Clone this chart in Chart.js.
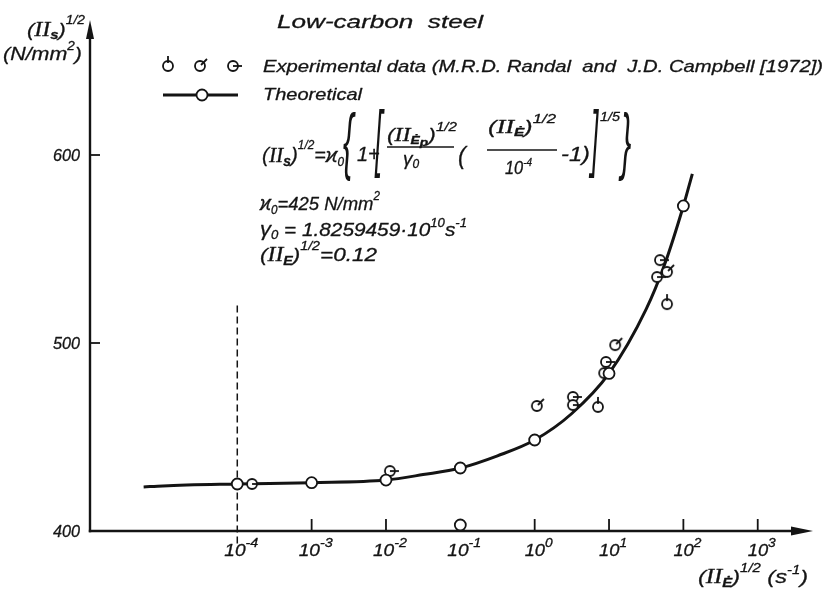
<!DOCTYPE html>
<html><head><meta charset="utf-8">
<script src="https://cdn.jsdelivr.net/npm/chart.js@4/dist/chart.umd.min.js"></script>
<style>html,body{margin:0;padding:0;background:#fff}#wrap{width:826px;height:591px;position:relative}</style>
</head><body><div id="wrap"><canvas id="c"></canvas></div>
<script>
// ---- data ----
const xTickExponents = [-4, -3, -2, -1, 0, 1, 2, 3];
const yTicks = [400, 500, 600];
const theoryCurveX = [5.5e-6, 1e-5, 1e-4, 1e-3, 1e-2, 3.16e-2, 1e-1, 3.16e-1, 1, 3.16, 10, 31.6, 56.2, 100, 132];
const theoryCurveY = [423.4, 424, 425, 425.7, 427.1, 430, 433.5, 440, 448.4, 462.5, 483.8, 518, 542, 572.9, 590];
const theoryMarkX = [1e-4, 1e-3, 1e-2, 1e-1, 1, 10, 100, 1e-1];
const theoryMarkY = [425, 425.7, 427.1, 433.5, 448.4, 483.8, 572.9, 403.2];
const expTopX = [60.3, 7.1];
const expTopY = [520.7, 466];
const expDiagX = [60.3, 12.1, 1.07];
const expDiagY = [537.8, 498.9, 466.5];
const expRightX = [48.4, 44.2, 9.1, 8.6, 3.27, 3.27, 1.58e-4, 1.13e-2];
const expRightY = [544.1, 535.1, 489.9, 484.0, 471.3, 467.0, 425, 431.9];

const zip = (xs, ys) => xs.map((x, i) => ({x, y: ys[i]}));
const INK = '#141414';
const it = s => `italic ${s}px "Liberation Sans"`;
const sr = s => `italic ${s}px "Liberation Serif"`;
const bd = s => `italic bold ${s}px "Liberation Sans"`;

function mk(type){
  const c = document.createElement('canvas'); c.width = 24; c.height = 24;
  const g = c.getContext('2d');
  g.strokeStyle = INK; g.lineWidth = 1.8; g.fillStyle = '#fff';
  g.beginPath(); g.arc(12, 12, 5, 0, 2*Math.PI); g.fill(); g.stroke();
  g.beginPath();
  if (type === 'top') { g.moveTo(12, 9); g.lineTo(12, 2); }
  else if (type === 'diag') { g.moveTo(13, 11); g.lineTo(19, 5); }
  else { g.moveTo(12, 12); g.lineTo(21, 12); }
  g.stroke();
  return c;
}
const symTop = mk('top'), symDiag = mk('diag'), symRight = mk('right');

function rich(ctx, x, y, parts, opt){
  opt = opt || {};
  let w = 0;
  for (const p of parts){ ctx.font = p[1]; w += ctx.measureText(p[0]).width; }
  const sx = opt.width ? opt.width / w : 1;
  let sxp = x;
  if (opt.align === 'center') sxp = x - w*sx/2;
  else if (opt.align === 'right') sxp = x - w*sx;
  ctx.save(); ctx.translate(sxp, y); ctx.scale(sx, 1);
  ctx.textAlign = 'left'; ctx.textBaseline = 'alphabetic'; ctx.fillStyle = INK;
  ctx.strokeStyle = INK; ctx.lineWidth = 0.3; ctx.lineJoin = 'round';
  let cx = 0;
  for (const p of parts){
    ctx.font = p[1];
    ctx.fillText(p[0], cx, p[2] || 0);
    ctx.strokeText(p[0], cx, p[2] || 0);
    cx += ctx.measureText(p[0]).width;
  }
  ctx.restore();
}
function bigGlyph(ctx, ch, x, y, size, sx){
  ctx.save(); ctx.translate(x, y); ctx.scale(sx, 1);
  ctx.font = `italic ${size}px "Liberation Sans"`; ctx.fillStyle = INK; ctx.textAlign = 'left'; ctx.textBaseline = 'alphabetic';
  ctx.fillText(ch, 0, 0); ctx.restore();
}

const axesPlugin = {
  id: 'axesPlugin',
  beforeDatasetsDraw(chart){
    const ctx = chart.ctx, xs = chart.scales.x, ys = chart.scales.y, a = chart.chartArea;
    const x0 = a.left, y0 = ys.getPixelForValue(400);
    ctx.save();
    ctx.strokeStyle = INK; ctx.fillStyle = INK; ctx.lineWidth = 2.4; ctx.lineCap = 'butt';
    // y axis + arrow
    ctx.beginPath(); ctx.moveTo(x0, y0 + 1.2); ctx.lineTo(x0, a.top + 14); ctx.stroke();
    ctx.beginPath(); ctx.moveTo(x0, a.top); ctx.lineTo(x0 - 4, a.top + 19); ctx.lineTo(x0 + 4, a.top + 19); ctx.closePath(); ctx.fill();
    // x axis + arrow
    ctx.beginPath(); ctx.moveTo(x0 - 1.2, y0); ctx.lineTo(a.right - 16, y0); ctx.stroke();
    ctx.beginPath(); ctx.moveTo(a.right + 1, y0); ctx.lineTo(a.right - 21, y0 - 4.5); ctx.lineTo(a.right - 21, y0 + 4.5); ctx.closePath(); ctx.fill();
    // y ticks
    ctx.lineWidth = 1.8;
    for (const v of yTicks){
      const py = ys.getPixelForValue(v);
      if (v > 400){ ctx.beginPath(); ctx.moveTo(x0, py); ctx.lineTo(x0 + 10, py); ctx.stroke(); }
      rich(ctx, x0 - 10, py + 6, [[String(v), it(16)]], {align: 'right', width: 27});
    }
    // x ticks
    for (const t of xs.ticks){
      const px = xs.getPixelForValue(t.value);
      const e = Math.round(Math.log10(t.value));
      if (e === -4){
        ctx.save(); ctx.setLineDash([7, 4]); ctx.lineWidth = 1.5;
        ctx.beginPath(); ctx.moveTo(px, ys.getPixelForValue(520)); ctx.lineTo(px, y0 + 14); ctx.stroke();
        ctx.restore();
      } else {
        ctx.beginPath(); ctx.moveTo(px, y0); ctx.lineTo(px, y0 - 12); ctx.stroke();
      }
      rich(ctx, px + 4, y0 + 25, [['10', it(16)], [String(e), it(12), -9]], {align: 'center', width: e < 0 ? 34 : 28});
    }
    ctx.restore();
  },
  afterDatasetsDraw(chart){
    const ctx = chart.ctx;
    ctx.save();
    // axis titles
    rich(ctx, 27, 36, [['(', it(19)], ['II', sr(21)], ['s', bd(13), 3], [')', it(19)], ['1/2', it(12), -12]], {width: 58});
    rich(ctx, 3, 60, [['(N/mm', it(19)], ['2', it(12), -10], [')', it(19)]], {width: 79});
    rich(ctx, 698, 583, [['(', it(19)], ['II', sr(20)], ['Ė', bd(12), 4], [')', it(19)], ['1/2', it(12), -11], [' (s', it(19)], ['-1', it(12), -9], [')', it(19)]], {width: 110});
    // title
    rich(ctx, 277, 28, [['Low-carbon  steel', it(19)]], {width: 206});
    // legend
    ctx.drawImage(symTop, 168 - 12, 66 - 12);
    ctx.drawImage(symDiag, 200 - 12, 66 - 12);
    ctx.drawImage(symRight, 233 - 12, 66 - 12);
    rich(ctx, 263, 72, [['Experimental data (M.R.D. Randal  and  J.D. Campbell [1972])', it(17)]], {width: 560});
    ctx.strokeStyle = INK; ctx.lineWidth = 3;
    ctx.beginPath(); ctx.moveTo(163, 95); ctx.lineTo(238, 95); ctx.stroke();
    ctx.fillStyle = '#fff'; ctx.lineWidth = 1.8;
    ctx.beginPath(); ctx.arc(202, 95, 5.5, 0, 2*Math.PI); ctx.fill(); ctx.stroke();
    rich(ctx, 263, 100, [['Theoretical', it(17)]], {width: 99});
    // formula
    rich(ctx, 262, 162, [['(', it(21)], ['II', sr(22)], ['s', bd(14), 4], [')', it(21)], ['1/2', it(12), -13], ['=', it(20)], ['ϰ', it(21)], ['0', it(12), 4]], {width: 82});
    bigGlyph(ctx, '{', 343, 166, 74, 0.42);
    rich(ctx, 357, 161, [['1+', it(20)]]);
    bigGlyph(ctx, '[', 375, 163, 74, 0.36);
    rich(ctx, 387, 141, [['(', it(18)], ['II', sr(19)], ['Ė', bd(11), 3], ['p', bd(11), 5], [')', it(18)], ['1/2', it(12), -10]], {width: 70});
    ctx.strokeStyle = INK; ctx.lineWidth = 1.5; ctx.beginPath(); ctx.moveTo(387, 147); ctx.lineTo(454, 147); ctx.stroke();
    rich(ctx, 411, 165, [['γ', it(19)], ['0', it(12), 3]], {align: 'center'});
    rich(ctx, 458, 164, [['(', it(23)]]);
    rich(ctx, 488, 133, [['(', it(18)], ['II', sr(19)], ['Ė', bd(11), 3], [')', it(18)], ['1/2', it(12), -10]], {width: 68});
    ctx.strokeStyle = INK; ctx.lineWidth = 1.5; ctx.beginPath(); ctx.moveTo(487, 150); ctx.lineTo(557, 150); ctx.stroke();
    rich(ctx, 505, 174, [['10', it(18)], ['-4', it(11), -8]], {width: 27});
    rich(ctx, 561, 161, [['-1)', it(20)]], {width: 29});
    bigGlyph(ctx, ']', 591, 163, 74, 0.36);
    rich(ctx, 600, 121, [['1/5', it(13)]], {width: 20});
    bigGlyph(ctx, '}', 621, 166, 74, 0.42);
    rich(ctx, 260, 210, [['ϰ', it(20)], ['0', it(12), 4], ['=425 N/mm', it(19)], ['2', it(12), -10]], {width: 120});
    rich(ctx, 260, 236, [['γ', it(20)], ['0', it(12), 3], [' = 1.8259459·10', it(19)], ['10', it(12), -9], ['s', it(19)], ['-1', it(12), -9]], {width: 207});
    rich(ctx, 260, 261, [['(', it(19)], ['II', sr(20)], ['E', bd(12), 4], [')', it(19)], ['1/2', it(12), -11], ['=0.12', it(19)]], {width: 117});
    ctx.restore();
  }
};

const pxPerUnit = 1.88;
new Chart(document.getElementById('c'), {
  type: 'scatter',
  data: {
    datasets: [
      {label: 'Theoretical points', data: zip(theoryMarkX, theoryMarkY), pointStyle: 'circle', pointRadius: 5.5, backgroundColor: '#fff', borderColor: INK, borderWidth: 1.8, showLine: false},
      {label: 'Exp (top tick)', data: zip(expTopX, expTopY), pointStyle: symTop, pointRadius: 6, showLine: false},
      {label: 'Exp (diagonal tick)', data: zip(expDiagX, expDiagY), pointStyle: symDiag, pointRadius: 6, showLine: false},
      {label: 'Exp (right tick)', data: zip(expRightX, expRightY), pointStyle: symRight, pointRadius: 6, showLine: false},
      {label: 'Theoretical', type: 'line', data: zip(theoryCurveX, theoryCurveY), borderColor: INK, borderWidth: 3, pointRadius: 0, tension: 0.4, cubicInterpolationMode: 'monotone', showLine: true, fill: false}
    ]
  },
  options: {
    responsive: true, maintainAspectRatio: false, animation: false,
    clip: false,
    layout: {padding: {left: 90, right: 14, top: 20, bottom: 60}},
    plugins: {legend: {display: false}, title: {display: false}, tooltip: {enabled: false}},
    scales: {
      x: {type: 'logarithmic', display: false, min: Math.pow(10, -5.981), max: Math.pow(10, 3.730),
          afterBuildTicks: s => { s.ticks = xTickExponents.map(e => ({value: Math.pow(10, e)})); }},
      y: {type: 'linear', display: false, min: 400, max: 400 + 511 / pxPerUnit}
    }
  },
  plugins: [axesPlugin]
});
</script></body></html>
